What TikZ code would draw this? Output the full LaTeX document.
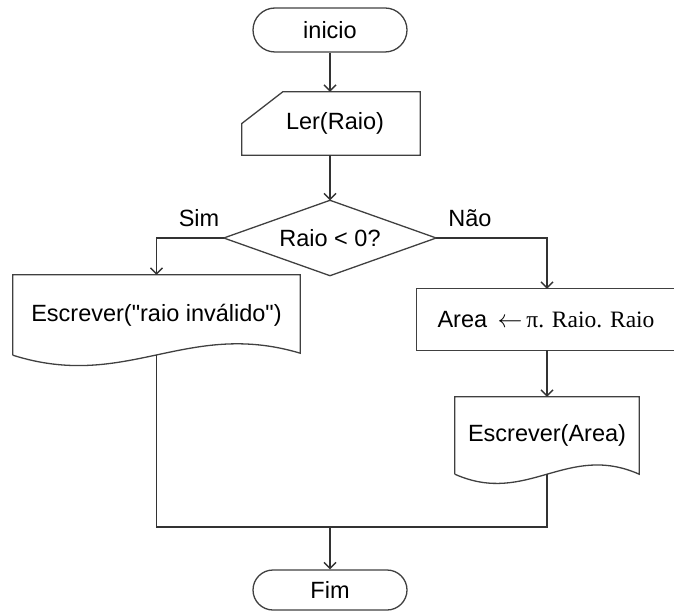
\documentclass[tikz,border=0pt]{standalone}
\usepackage{fontspec}
\setmainfont{Liberation Sans}
\newfontfamily\serifpart{Liberation Serif}
\usetikzlibrary{shapes.misc,arrows.meta,calc}
\newcommand{\strq}{\XeTeXglyph\XeTeXcharglyph"22\relax}
\tikzset{
  base/.style={font=\fontsize{23.5}{28}\selectfont, inner sep=0pt},
  term/.style={base, rounded rectangle, draw=black!75, line width=1.3pt},
  plain/.style={base, rectangle, draw=none},
  boxline/.style={draw=black!75, line width=1.3pt},
  conn/.style={draw=black!80, line width=1.4pt},
  arr/.style={conn, -{Straight Barb[length=6pt,width=12pt,line width=1.4pt]}},
  lbl/.style={base}
}
\begin{document}
\begin{tikzpicture}[x=1pt,y=-1pt]
\useasboundingbox (0,0) rectangle (674,612);
% nodes
\node[term, minimum width=154pt, minimum height=44pt] (ini) at (330,30) {inicio};
\node[plain, minimum width=178pt, minimum height=63pt] (ler) at (331,123.5) {\hspace*{8pt}Ler(Raio)};
\node[plain, minimum width=212pt, minimum height=75pt] (dia) at (330,238) {Raio < 0?};
\node[plain, minimum width=287pt, minimum height=80pt] (doc1) at (156.5,315) {\raisebox{4pt}{Escrever(\strq raio inválido\strq)}};
\node[plain, minimum width=258pt, minimum height=61pt] (area) at (546,319.5) {Area {\serifpart\,$\leftarrow$\,π. Raio. Raio}};
\node[plain, minimum width=184pt, minimum height=77pt] (doc2) at (547,435.5) {\raisebox{3pt}{Escrever(Area)}};
\node[term, minimum width=154pt, minimum height=40pt] (fim) at (330,590) {Fim};
\coordinate (join) at (330,527);
\node[lbl] (sim) at (199,218) {Sim};
\node[lbl] (nao) at (470,218) {Não};
% shapes
\draw[boxline] (ler.north east) -- (ler.south east) -- (ler.south west) -- ($(ler.south west)!0.5!(ler.north west)$) -- ($(ler.north west)+(41,0)$) -- cycle;
\draw[boxline] (dia.north) -- (dia.east) -- (dia.south) -- (dia.west) -- cycle;
\draw[boxline] (area.north west) rectangle (area.south east);
\draw[boxline] (doc1.south west) -- (doc1.north west) -- (doc1.north east) -- ($(doc1.south east)+(0,-2)$)
  .. controls ($(doc1.south)+(30,-36)$) and ($(doc1.south)+(-30,36)$) .. (doc1.south west);
\draw[boxline] (doc2.south west) -- (doc2.north west) -- (doc2.north east) -- (doc2.south east)
  .. controls ($(doc2.south)+(20,-32)$) and ($(doc2.south)+(-20,32)$) .. (doc2.south west);
% connectors
\draw[arr] (ini.south) -- (ler.north -| ini.south);
\draw[arr] (ler.south -| dia.north) -- (dia.north);
\draw[arr] (dia.west) -| (doc1.north);
\draw[arr] (dia.east) -| (area.north -| doc2.north);
\draw[arr] (area.south -| doc2.north) -- (doc2.north);
\draw[conn] (doc1.south) |- (join -| doc2.south) -- (doc2.south);
\draw[arr] (join) -- (fim.north);
\end{tikzpicture}
\end{document}
